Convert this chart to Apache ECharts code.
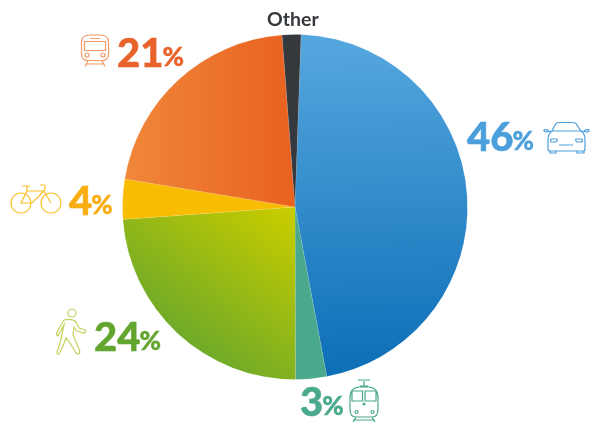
<!DOCTYPE html>
<html><head><meta charset="utf-8">
<style>html,body{margin:0;padding:0;background:#fff}#c{width:600px;height:432px}</style>
<script src="https://cdn.jsdelivr.net/npm/echarts@6/dist/echarts.min.js"></script>
</head><body><div id="c"></div>
<script>
const categories = ['Car','Tram','Walking','Bicycle','Train','Other'];
const shares = [46.5,2.9,23.9,3.75,21.2,1.75];
const labels = ['46','3','24','4','21',''];
const labelColors = ['#4b9fdb','#4aa88c','#63a62f','#f8ae13','#e9622a','#35383c'];
const anchors = [[467,138],[300,403],[94,338],[69,202],[117,54],[267,20]];
const G=(x,y,x2,y2,a,b)=>({type:'linear',global:true,x,y,x2,y2,colorStops:[{offset:0,color:a},{offset:1,color:b}]});
const fills=[
 G(340,50,350,365,'#53a5dd','#0f70b8'),
 '#4aa88c',
 G(280,215,170,360,'#c4cb00','#62a52f'),
 '#f8bc00',
 G(122,120,295,120,'#f0883a','#e9611f'),
 '#35383c'
];
const paths={
 car:'M552 131L555 125Q556 122.5 559 122.5L573 122.5Q576 122.5 577 125L581 131Q585 134 585 139L585 149Q585 151 583 151L550 151Q548 151 548 149L548 139Q548 134 552 131ZM552 131L581 131M550 151L550 153L556 153L556 151M577 151L577 153L584 153L584 151M552 131Q543 133 544 130Q545 129 549 130.5M581 131Q590 133 589 130Q588 129 584 130.5M551 139L557 139Q558 142 555 142L551 142Q550 141 551 139ZM582 139L576 139Q575 142 578 142L582 142Q583 141 582 139ZM559 145L573 145',
 train:'M81.5 42Q81.5 35 90 35L100 35Q108.5 35 108.5 42L108.5 54Q108.5 60.5 102 60.5L88 60.5Q81.5 60.5 81.5 54ZM90 38.5L100 38.5M84.5 41.5L105.5 41.5L105.5 50.5L84.5 50.5ZM89 55A2 2 0 1 1 85 55A2 2 0 1 1 89 55ZM105 55A2 2 0 1 1 101 55A2 2 0 1 1 105 55ZM88 60.5L85 66.5M102 60.5L105 66.5M86.5 64L103.5 64',
 bike:'M31 203A10 10 0 1 1 11 203A10 10 0 1 1 31 203ZM61 203A10 10 0 1 1 41 203A10 10 0 1 1 61 203ZM27 186L27 191L21 203L32 203L44 191L27 191M22 186L30 186M40 185L44 185Q46 186 45 188L44 191L51 203M21 203L31 203',
 walk:'M76 313A4 4 0 1 1 68 313A4 4 0 1 1 76 313ZM64 320Q72 318 76 322L79 328L85 330Q87 332 84 333L77 331L74 327L73 335L77 344L80 352Q79 355 76 353L70 343L66 338L63 346L59 354Q57 355 57 352L60 343L62 334L64 325L60 332L58 336Q56 336 57 332Z',
 tram:'M358 380L370 380M364 381L364 387M360 386L368 386M350 398Q350 387 360 387L368 387Q378 387 378 398L378 410Q378 417 372 417L356 417Q350 417 350 410ZM352 391L362.5 391L362.5 401L352 401ZM365 391L376 391L376 401L365 401ZM365 404A1 1 0 1 1 363 404A1 1 0 1 1 365 404ZM358 412A1.5 1.5 0 1 1 355 412A1.5 1.5 0 1 1 358 412ZM374 412A1.5 1.5 0 1 1 371 412A1.5 1.5 0 1 1 374 412ZM356 417L353 422M372 417L375 422M353 420L375 420'
};
Object.keys(paths).forEach(k=>echarts.graphic.registerShape('icon_'+k,echarts.graphic.extendPath(paths[k],{})));
const icon=(k,color,w)=>({type:'icon_'+k,silent:true,style:{fill:null,stroke:color,lineWidth:w||1.1}});
const chart=echarts.init(document.getElementById('c'));
chart.setOption({
 animation:false,
 graphic:[
  icon('car','#4b9fdb',1.2),
  icon('train','#f39a6b',1.2),
  icon('bike','#fbc02d',1.2),
  icon('walk','#c6d05c',1.2),
  icon('tram','#4aa88c',1.2)
 ],
 series:[{
  type:'pie',center:[295,207],radius:[0,172.5],startAngle:88,clockwise:true,
  avoidLabelOverlap:false,labelLine:{show:false},
  emphasis:{disabled:true},
  label:{show:true,position:'outside'},
  labelLayout:p=>({x:anchors[p.dataIndex][0],y:anchors[p.dataIndex][1],align:'left',verticalAlign:'middle',hideOverlap:false}),
  data:categories.map((name,i)=>({
   name,value:shares[i],
   itemStyle:{color:fills[i],borderColor:'rgba(255,255,255,0.35)',borderWidth:0.3},
   label:{
    formatter:i===5?'Other':'{n|'+labels[i]+'}{p|%}',
    color:labelColors[i],fontFamily:'Lato',fontWeight:700,fontSize:19.5,
    rich:{
     n:{fontFamily:'Lato',fontWeight:900,fontSize:40,color:labelColors[i],textBorderColor:labelColors[i],textBorderWidth:0.5},
     p:{fontFamily:'Lato',fontWeight:900,fontSize:26,color:labelColors[i],verticalAlign:'bottom',padding:[0,0,3,-1],textBorderColor:labelColors[i],textBorderWidth:0.4}
    }
   }
  }))
 }]
});
</script></body></html>
